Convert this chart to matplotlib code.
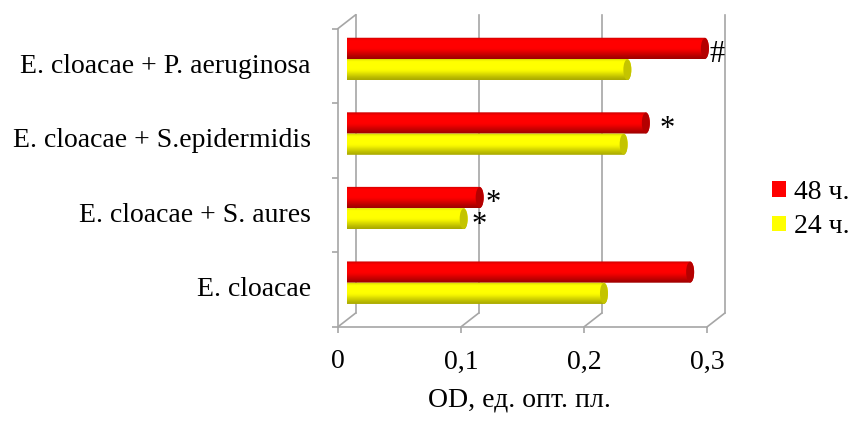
import numpy as np
import matplotlib
matplotlib.use('Agg')
import matplotlib.pyplot as plt
from matplotlib.patches import PathPatch, Ellipse, Patch, ConnectionPatch
from matplotlib.path import Path
import matplotlib.transforms as mtransforms

# ---------------- data ----------------
categories = ["E. cloacae", "E. cloacae + S. aures",
              "E. cloacae + S.epidermidis", "E. cloacae + P. aeruginosa"]
values_48 = [0.279, 0.108, 0.243, 0.291]
values_24 = [0.209, 0.095, 0.225, 0.228]
series_labels = ["48 ч.", "24 ч."]
xticks = [0.0, 0.1, 0.2, 0.3]
xtick_labels = ["0", "0,1", "0,2", "0,3"]
xlabel = "OD, ед. опт. пл."
marks_48 = ["", "*", "*", "#"]
marks_24 = ["", "*", "", ""]

# ---------------- style ----------------
mark_off_48 = [(0, 0), (13, -13), (21, -14), (12, -14)]
mark_off_24 = [(0, 0), (15, -14), (0, 0), (0, 0)]

plt.rcParams['font.family'] = ['Liberation Serif', 'DejaVu Serif']
FS = 20
FS_MARK = 22
GRID = '#a6a6a6'
LW = 1.2

fig = plt.figure(figsize=(8.48, 4.25), dpi=100)
ax = fig.add_axes([0.4089, 0.2471, 0.4354, 0.7018])
ax.set_xlim(0, 0.3)
ax.set_ylim(-0.5, 3.5)
ax.axis('off')

front = mtransforms.offset_copy(ax.transData, fig=fig, x=-9, y=-7, units='dots')
back = mtransforms.offset_copy(ax.transData, fig=fig, x=9, y=7, units='dots')

ymin, ymax = -0.5, 3.5
# back wall gridlines
for v in xticks:
    ax.plot([v, v], [ymin, ymax], color=GRID, lw=LW, transform=back, clip_on=False, zorder=1)
    # floor diagonals
    cp = ConnectionPatch((v, ymin), (v, ymin), coordsA=front, coordsB=back,
                         color=GRID, lw=LW, zorder=1)
    ax.add_artist(cp)
# left wall front edge and top diagonal
ax.plot([0, 0], [ymin, ymax], color=GRID, lw=LW, transform=front, clip_on=False, zorder=1)
ax.add_artist(ConnectionPatch((0, ymax), (0, ymax), coordsA=front, coordsB=back,
                              color=GRID, lw=LW, zorder=1))
# floor front edge
ax.plot([0, xticks[-1]], [ymin, ymin], color=GRID, lw=LW, transform=front, clip_on=False, zorder=1)
# ticks
ax.plot(xticks, [ymin] * len(xticks), ls='none', marker=3, ms=4.5, mew=LW, color=GRID,
        transform=front, clip_on=False, zorder=1)
ax.plot([0] * 5, [-0.5, 0.5, 1.5, 2.5, 3.5], ls='none', marker=0, ms=4.5, mew=LW, color=GRID,
        transform=front, clip_on=False, zorder=1)

# ---------------- cylinders ----------------
H = 0.285
A = 4.0 / 1231.7  # semi-axis of end ellipse in data units


def gradient(base, dark):
    t = np.linspace(0, 1, 80)
    f = np.interp(t, [0.0, 0.12, 0.4, 0.5, 0.85, 0.93, 1.0],
                  [0.62, 0.70, 0.95, 1.0, 1.0, 0.9, 0.78])
    base = np.array(base)
    dark = np.array(dark)
    rgb = dark[None, :] + (base - dark)[None, :] * ((f - 0.62) / 0.38)[:, None]
    rgb = np.clip(rgb, 0, 1)
    return np.repeat(rgb[:, None, :], 4, axis=1)


styles = [
    (values_48, +H / 2, (1.0, 0.0, 0.0), (0.62, 0.0, 0.0), '#b40000', marks_48, mark_off_48),
    (values_24, -H / 2, (1.0, 1.0, 0.0), (0.66, 0.66, 0.0), '#c4c400', marks_24, mark_off_24),
]

for vals, off, base, dark, capc, marks, moffs in styles:
    g = gradient(base, dark)
    for i, v in enumerate(vals):
        yc = i + off
        y0, y1 = yc - H / 2, yc + H / 2
        t1 = np.linspace(np.pi / 2, 3 * np.pi / 2, 30)
        t2 = np.linspace(-np.pi / 2, np.pi / 2, 30)
        xs = np.concatenate([A * np.cos(t1), v + A * np.cos(t2)])
        ys = np.concatenate([yc + H / 2 * np.sin(t1), yc + H / 2 * np.sin(t2)])
        verts = np.column_stack([xs, ys])
        verts = np.vstack([verts, verts[:1]])
        codes = [Path.MOVETO] + [Path.LINETO] * (len(verts) - 2) + [Path.CLOSEPOLY]
        patch = PathPatch(Path(verts, codes), facecolor='none', edgecolor='none',
                          transform=ax.transData)
        ax.add_patch(patch)
        im = ax.imshow(g, extent=[-A, v + A, y0, y1], origin='lower', aspect='auto',
                       interpolation='bilinear', zorder=3)
        im.set_clip_path(patch)
        im.set_clip_on(True)
        ax.add_patch(Ellipse((v, yc), 2 * A, H * 0.97, facecolor=capc, edgecolor='none',
                             zorder=4))
        if marks[i]:
            ax.annotate(marks[i], xy=(v, yc), xycoords='data', xytext=moffs[i],
                        textcoords='offset pixels', ha='center', va='baseline',
                        fontsize=FS_MARK, color='black', zorder=5, annotation_clip=False)

ax.set_xlim(0, 0.3)
ax.set_ylim(-0.5, 3.5)

# ---------------- labels ----------------
for i, c in enumerate(categories):
    ax.annotate(c, xy=(0, i), xycoords=front, xytext=(-27, 0), textcoords='offset pixels',
                ha='right', va='center', fontsize=FS, annotation_clip=False)
for v, s in zip(xticks, xtick_labels):
    ax.annotate(s, xy=(v, ymin), xycoords=front, xytext=(0, -35), textcoords='offset pixels',
                ha='center', va='center', fontsize=FS, annotation_clip=False)
ax.annotate(xlabel, xy=(0.15, ymin), xycoords=front, xytext=(-3, -73),
            textcoords='offset pixels', ha='center', va='center', fontsize=FS,
            annotation_clip=False)

handles = [Patch(facecolor='#ff0000', edgecolor='none'), Patch(facecolor='#ffff00', edgecolor='none')]
fig.legend(handles=handles, labels=series_labels, loc='center left',
           bbox_to_anchor=(0.910, 0.507), frameon=False, fontsize=FS,
           handlelength=0.5, handleheight=0.5, handletextpad=0.3, labelspacing=0.35,
           borderpad=0, borderaxespad=0)

fig.savefig('out.png', dpi=100, facecolor='white')
